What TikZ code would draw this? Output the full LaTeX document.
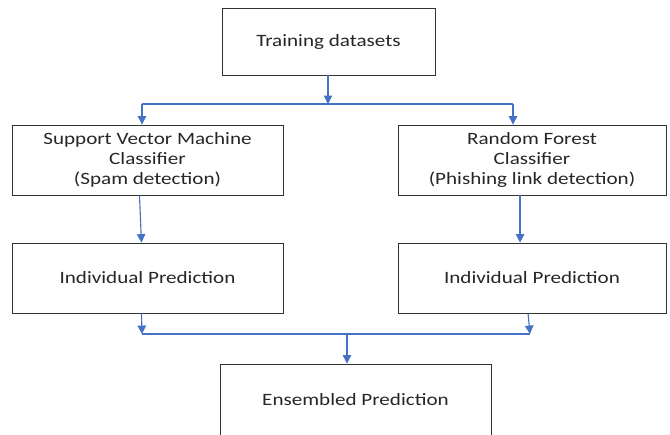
\documentclass[tikz,border=0pt]{standalone}
\usepackage{fontspec}
\setmainfont[FakeStretch=1.22]{Carlito}
\usepackage{tikz}
\usetikzlibrary{calc, positioning, arrows.meta}

\definecolor{linkblue}{HTML}{4472C4}

\tikzset{
    box/.style={draw=black!80, line width=0.6pt, text=black!85, align=center,
        font=\fontsize{12.3}{14}\selectfont, inner sep=2pt},
    link/.style={draw=linkblue, line width=0.8pt, -{Triangle[length=6pt, width=6pt]}},
    plain/.style={draw=linkblue, line width=0.8pt}
}

\begin{document}
\begin{tikzpicture}[x=0.025cm, y=-0.025cm]
    \clip (0,0) rectangle (670,434);
    \fill[white] (0,0) rectangle (670,434);

    % Các khối
    \node[box, minimum width=5.325cm, minimum height=1.675cm] (train) at (328.5,41.5) {Training datasets};
    \node[box, minimum width=6.775cm, minimum height=1.75cm] (svm) at (147.5,160)
        {Support Vector Machine\\Classifier\\(Spam detection)};
    \node[box, minimum width=6.7cm, minimum height=1.75cm] (rf) at (532,160)
        {Random Forest\\Classifier\\(Phishing link detection)};
    \node[box, minimum width=6.775cm, minimum height=1.75cm] (predl) at (147.5,278) {Individual Prediction};
    \node[box, minimum width=6.7cm, minimum height=1.75cm] (predr) at (532,278) {Individual Prediction};
    \node[box, minimum width=6.775cm, minimum height=2.2cm, text depth=0.45cm] (ens) at (355.5,408) {Ensembled Prediction};

    % Điểm rẽ nhánh
    \coordinate (split) at (328,104);
    \coordinate (splitl) at (142,104);
    \coordinate (splitr) at (513,104);
    \coordinate (join) at (347,334);
    \coordinate (joinl) at (142,334);
    \coordinate (joinr) at (530,334);

    % Mũi tên
    \draw[link] (train.south -| split) -- (split);
    \draw[plain] (splitl) -- (splitr);
    \draw[link] (splitl) -- (splitl |- svm.north);
    \draw[link] (splitr) -- (splitr |- rf.north);
    \draw[link] ([xshift=-5.7pt]svm.south) -- ([xshift=-4.3pt]predl.north);
    \draw[link] ([xshift=-8.5pt]rf.south) -- ([xshift=-8.5pt]predr.north);
    \draw[link] ([xshift=-4.3pt]predl.south) -- (joinl);
    \draw[link] ([xshift=-2.8pt]predr.south) -- (joinr);
    \draw[plain] (joinl) -- (joinr);
    \draw[link] (join) -- (join |- ens.north);
\end{tikzpicture}
\end{document}
